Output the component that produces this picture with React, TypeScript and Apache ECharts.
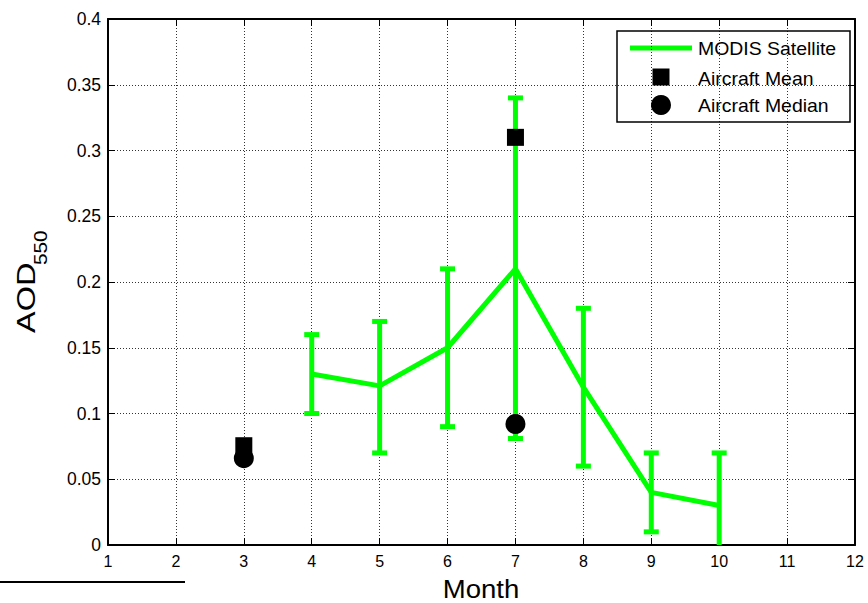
import React, { useEffect, useRef } from "react";
import * as echarts from "echarts";

const months = [4, 5, 6, 7, 8, 9, 10];
const modisAod = [0.13, 0.121, 0.15, 0.21, 0.12, 0.04, 0.03];
const modisLow = [0.1, 0.07, 0.09, 0.081, 0.06, 0.01, -0.01];
const modisHigh = [0.16, 0.17, 0.21, 0.34, 0.18, 0.07, 0.07];
const aircraftMonths = [3, 7];
const aircraftMean = [0.0755, 0.31];
const aircraftMedian = [0.066, 0.092];
const legendLabels = ["MODIS Satellite", "Aircraft Mean", "Aircraft Median"];

const FONT = "'Liberation Sans', Arial, sans-serif";
const GREEN = "#00ff00";

export default function App() {
  const ref = useRef<HTMLDivElement>(null);
  useEffect(() => {
    if (!ref.current) return;
    const chart = echarts.init(ref.current, null, { renderer: "svg" });
    const gridLine = { show: true, lineStyle: { color: "#000", width: 1, type: [1, 2], opacity: 0.8 } };
    const axisLine = { show: true, onZero: false, lineStyle: { color: "#000", width: 2 } };
    const tick = { show: true, inside: true, length: 7, lineStyle: { color: "#000", width: 1 } };
    const label = { color: "#000", fontFamily: FONT };
    chart.setOption({
      animation: false,
      backgroundColor: "#fff",
      grid: { left: 108, right: 13, top: 19, bottom: 58, containLabel: false },
      xAxis: [
        {
          type: "value", min: 1, max: 12, interval: 1, position: "bottom",
          axisLine, axisTick: tick, splitLine: gridLine,
          axisLabel: { ...label, fontSize: 16, margin: 8 },
        },
        {
          type: "value", min: 1, max: 12, interval: 1, position: "top",
          axisLine, axisTick: tick, splitLine: { show: false }, axisLabel: { show: false },
        },
      ],
      yAxis: [
        {
          type: "value", min: 0, max: 0.4, interval: 0.05, position: "left",
          axisLine, axisTick: tick, splitLine: gridLine,
          axisLabel: { ...label, fontSize: 17.5, margin: 7 },
        },
        {
          type: "value", min: 0, max: 0.4, interval: 0.05, position: "right",
          axisLine, axisTick: tick, splitLine: { show: false }, axisLabel: { show: false },
        },
      ],
      series: [
        {
          type: "line", name: legendLabels[0],
          data: months.map((m, i) => [m, modisAod[i]]),
          showSymbol: false, symbol: "none",
          lineStyle: { color: GREEN, width: 5 }, z: 3,
        },
        {
          type: "custom", name: "errors", clip: true, z: 4,
          data: months.map((m, i) => [m, modisLow[i], modisHigh[i]]),
          renderItem: (params: any, api: any) => {
            const lo = api.coord([api.value(0), api.value(1)]);
            const hi = api.coord([api.value(0), api.value(2)]);
            const hw = 7.5;
            const style = { stroke: GREEN, lineWidth: 5 };
            return {
              type: "group",
              children: [
                { type: "line", shape: { x1: lo[0], y1: lo[1], x2: hi[0], y2: hi[1] }, style },
                { type: "line", shape: { x1: hi[0] - hw, y1: hi[1], x2: hi[0] + hw, y2: hi[1] }, style },
                { type: "line", shape: { x1: lo[0] - hw, y1: lo[1], x2: lo[0] + hw, y2: lo[1] }, style },
              ],
            };
          },
        },
        {
          type: "scatter", name: legendLabels[1],
          data: aircraftMonths.map((m, i) => [m, aircraftMean[i]]),
          symbol: "rect", symbolSize: 17, itemStyle: { color: "#000", opacity: 1 }, z: 5,
        },
        {
          type: "scatter", name: legendLabels[2],
          data: aircraftMonths.map((m, i) => [m, aircraftMedian[i]]),
          symbol: "circle", symbolSize: 20, itemStyle: { color: "#000", opacity: 1 }, z: 6,
        },
      ],
      graphic: [
        {
          type: "group", z: 100, children: [
            { type: "rect", shape: { x: 617, y: 31, width: 233, height: 91 }, style: { fill: "#fff", stroke: "#000", lineWidth: 1.5 } },
            { type: "line", shape: { x1: 630, y1: 48, x2: 692, y2: 48 }, style: { stroke: GREEN, lineWidth: 5 } },
            { type: "rect", shape: { x: 652.5, y: 68.5, width: 17, height: 17 }, style: { fill: "#000" } },
            { type: "circle", shape: { cx: 661, cy: 105, r: 10 }, style: { fill: "#000" } },
            { type: "text", x: 698, y: 49, scaleX: 1.08, style: { text: legendLabels[0], font: `18px ${FONT}`, fill: "#000", verticalAlign: "middle" } },
            { type: "text", x: 698, y: 79, scaleX: 1.08, style: { text: legendLabels[1], font: `18px ${FONT}`, fill: "#000", verticalAlign: "middle" } },
            { type: "text", x: 698, y: 106, scaleX: 1.08, style: { text: legendLabels[2], font: `18px ${FONT}`, fill: "#000", verticalAlign: "middle" } },
          ],
        },
        { type: "text", x: 481, y: 589, z: 100, scaleX: 1.06, style: { text: "Month", font: `26px ${FONT}`, fill: "#000", align: "center", verticalAlign: "middle" } },
        { type: "text", x: 26, y: 333, rotation: Math.PI / 2, scaleX: 1.25, z: 100, style: { text: "AOD", font: `26px ${FONT}`, fill: "#000", align: "left", verticalAlign: "middle" } },
        { type: "text", x: 41, y: 265, rotation: Math.PI / 2, scaleX: 1.15, z: 100, style: { text: "550", font: `18px ${FONT}`, fill: "#000", align: "left", verticalAlign: "middle" } },
        { type: "line", z: 100, shape: { x1: 0, y1: 582, x2: 185, y2: 582 }, style: { stroke: "#000", lineWidth: 2 } },
      ],
    });
    return () => chart.dispose();
  }, []);
  return <div ref={ref} style={{ position: "fixed", left: 0, top: 0, width: 868, height: 603 }} />;
}
